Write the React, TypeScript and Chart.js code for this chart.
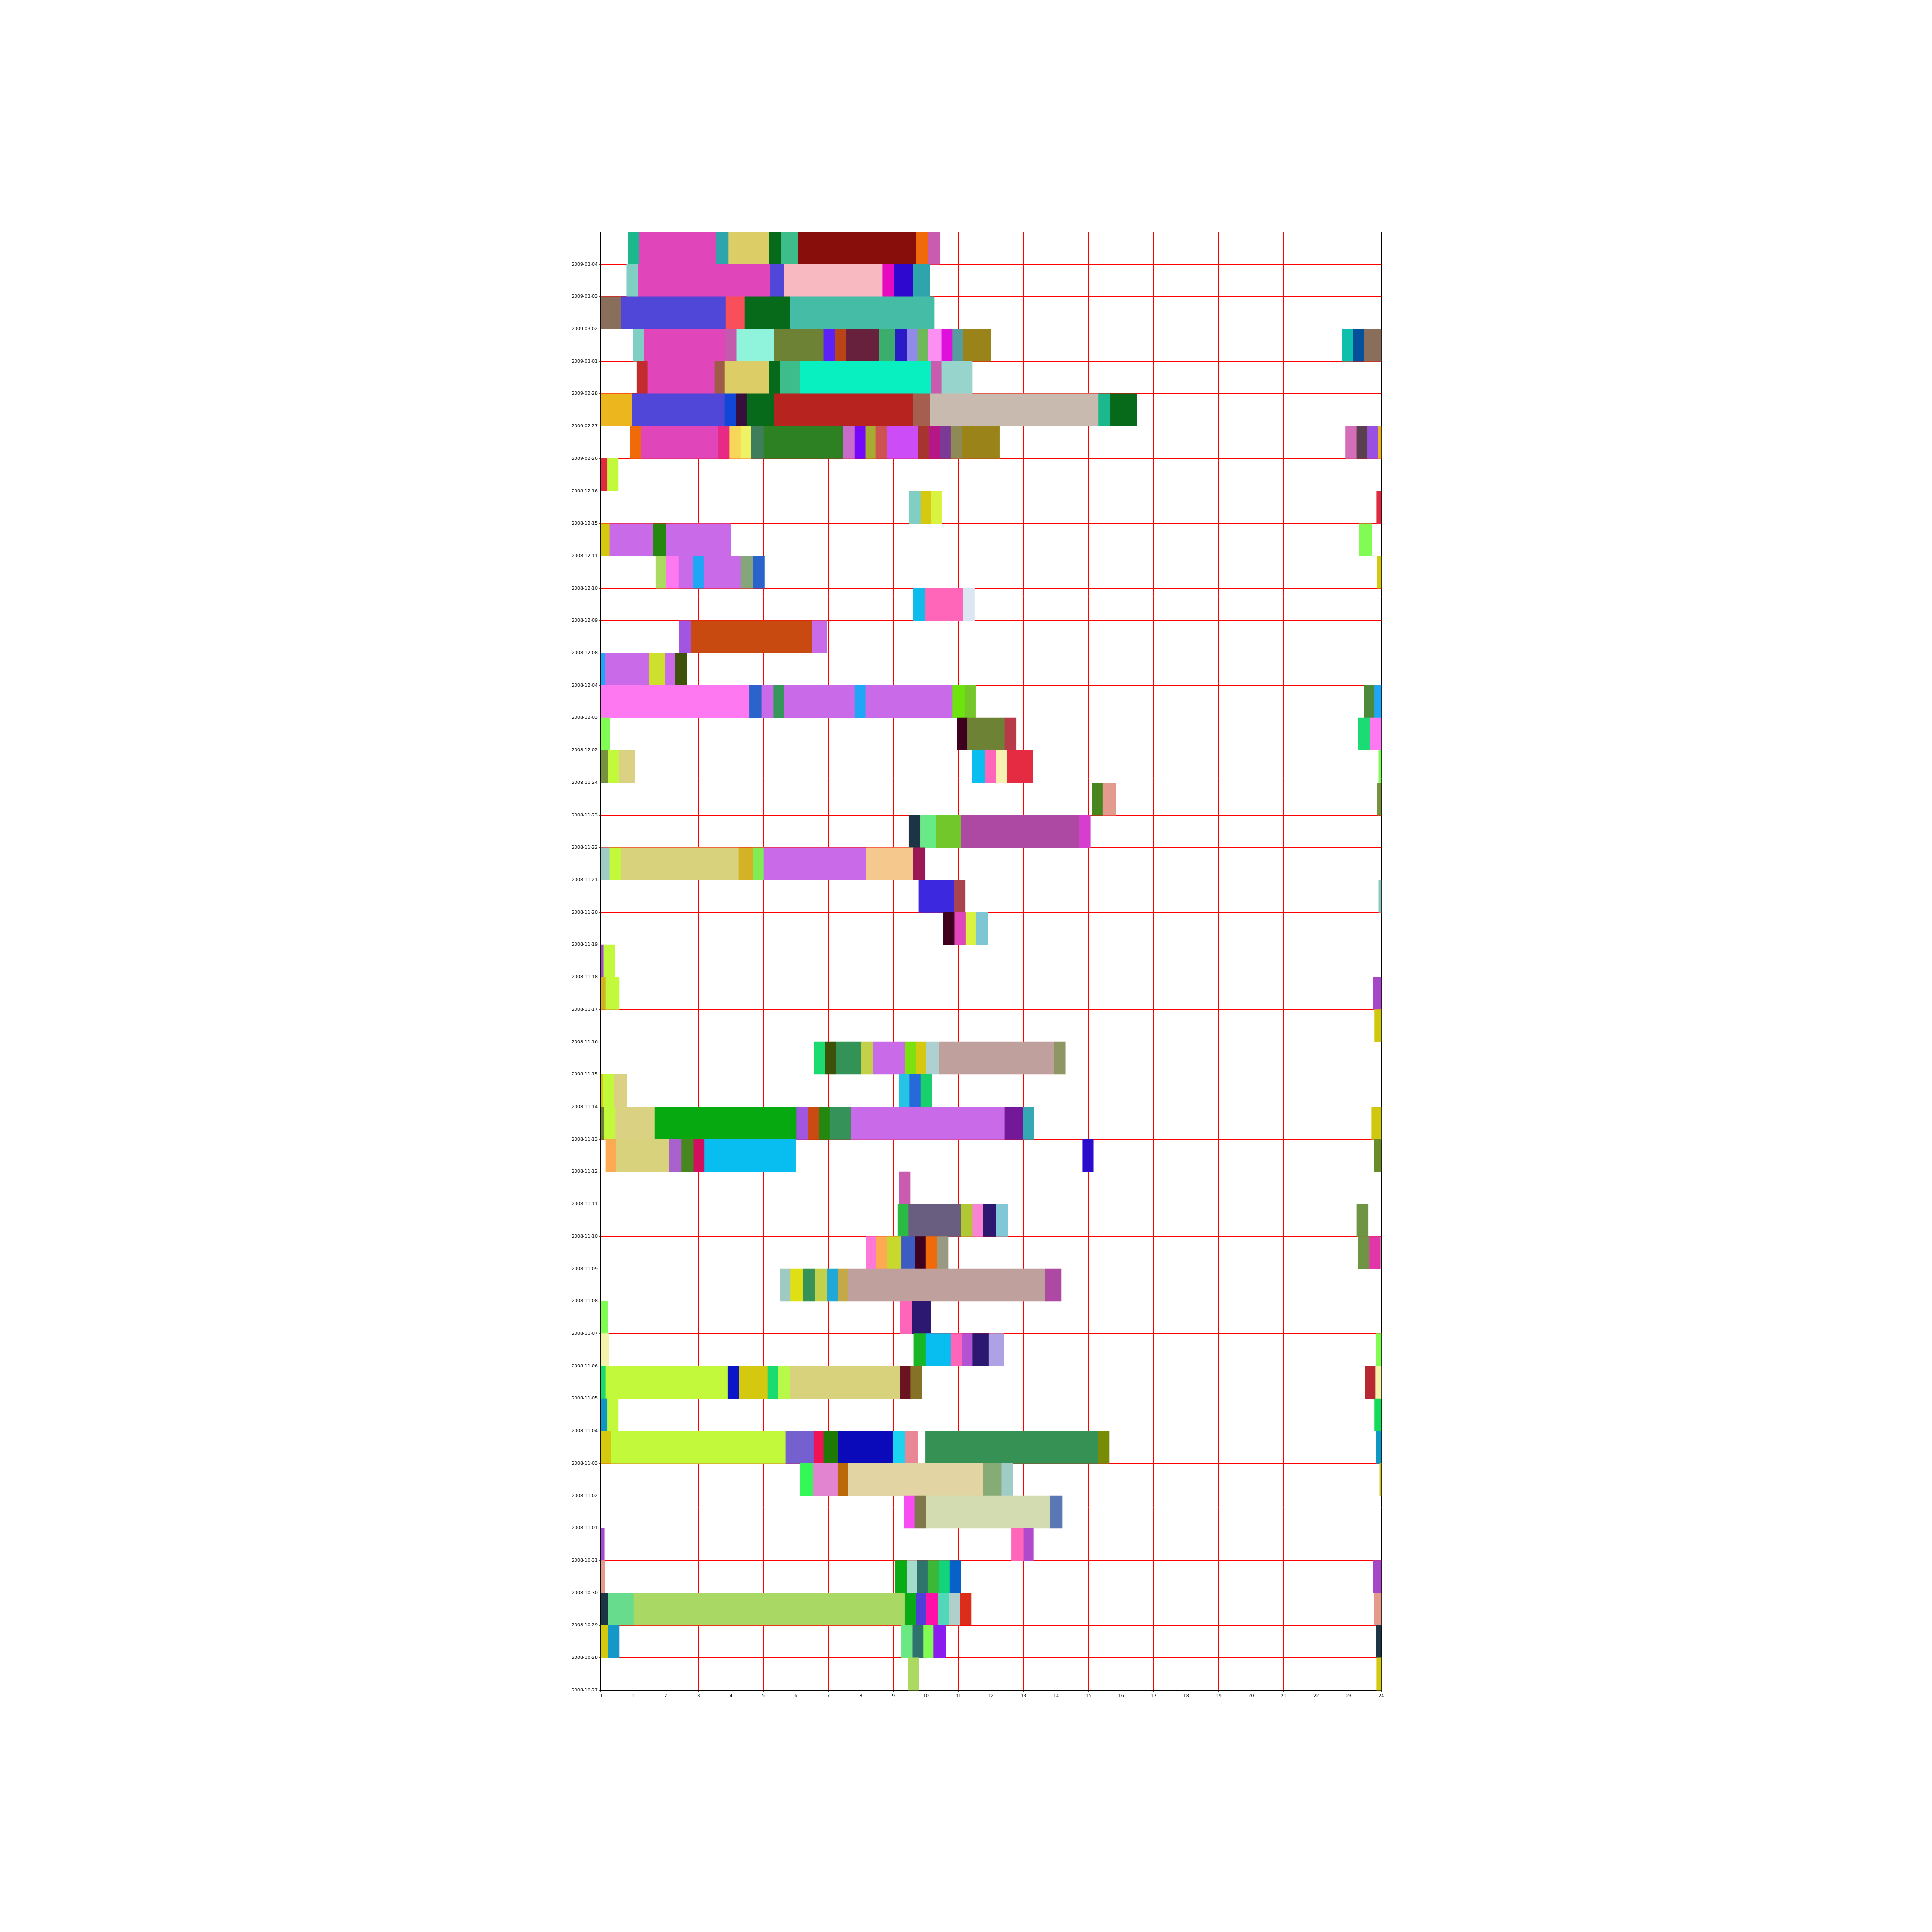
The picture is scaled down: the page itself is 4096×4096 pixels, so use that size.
import React, { useEffect, useRef } from 'react';
import { Chart, registerables } from 'chart.js';

Chart.register(...registerables);

// Day labels, top row first (each row's label sits at its bottom edge)
const dates: string[] = [
  '2009-03-04', '2009-03-03', '2009-03-02', '2009-03-01', '2009-02-28', '2009-02-27', '2009-02-26',
  '2008-12-16', '2008-12-15', '2008-12-11', '2008-12-10', '2008-12-09', '2008-12-08', '2008-12-04',
  '2008-12-03', '2008-12-02', '2008-11-24', '2008-11-23', '2008-11-22', '2008-11-21', '2008-11-20',
  '2008-11-19', '2008-11-18', '2008-11-17', '2008-11-16', '2008-11-15', '2008-11-14', '2008-11-13',
  '2008-11-12', '2008-11-11', '2008-11-10', '2008-11-09', '2008-11-08', '2008-11-07', '2008-11-06',
  '2008-11-05', '2008-11-04', '2008-11-03', '2008-11-02', '2008-11-01', '2008-10-31', '2008-10-30',
  '2008-10-29', '2008-10-28', '2008-10-27',
];

const hourTicks: number[] = [0, 1, 2, 3, 4, 5, 6, 7, 8, 9, 10, 11, 12, 13, 14, 15, 16, 17, 18, 19, 20, 21, 22, 23, 24];

// Activity segments per day: [start hour, end hour, colour]; same order as dates
const segments: [number, number, string][][] = [
  [[0.85, 1.18, '#1BB78D'], [1.18, 3.54, '#E045BA'], [3.54, 3.93, '#2EA4AD'], [3.93, 5.18, '#DCCD67'], [5.18, 5.54, '#066A1A'], [5.54, 6.07, '#3DBD8A'], [6.07, 9.70, '#880E0B'], [9.70, 10.07, '#F06A0A'], [10.07, 10.43, '#C95CAE']],
  [[0.80, 1.15, '#80CEC4'], [1.15, 5.21, '#E045BA'], [5.21, 5.65, '#5046D8'], [5.65, 8.66, '#F8B9C1'], [8.66, 9.02, '#E60AC0'], [9.02, 9.61, '#2E08CF'], [9.61, 10.12, '#2EA4AD']],
  [[0, 0.63, '#8A6E5C'], [0.63, 3.85, '#5046D8'], [3.85, 4.43, '#F94F5A'], [4.43, 5.82, '#066A1A'], [5.82, 10.26, '#45BCA6']],
  [[1.0, 1.33, '#80CEC4'], [1.33, 3.84, '#E045BA'], [3.84, 4.18, '#C459AE'], [4.18, 5.32, '#90F4DC'], [5.32, 6.85, '#6E8235'], [6.85, 7.21, '#5B22F8'], [7.21, 7.54, '#B94418'], [7.54, 8.56, '#68213C'], [8.56, 9.05, '#3BAE6D'], [9.05, 9.41, '#2A1BC8'], [9.41, 9.75, '#918AE8'], [9.75, 10.07, '#6EB95A'], [10.07, 10.49, '#FB90F2'], [10.49, 10.82, '#DF10DC'], [10.82, 11.14, '#569C9E'], [11.14, 11.99, '#9A841A'], [22.81, 23.13, '#0EBFAE'], [23.13, 23.47, '#05509A'], [23.47, 24, '#8A6E5C']],
  [[1.11, 1.44, '#C22C2F'], [1.44, 3.50, '#E045BA'], [3.50, 3.82, '#9F5A48'], [3.82, 5.18, '#DCCD67'], [5.18, 5.52, '#066A1A'], [5.52, 6.13, '#3DBD8A'], [6.13, 10.15, '#08EFC0'], [10.15, 10.49, '#C95CAE'], [10.49, 11.42, '#96D4CC']],
  [[0, 0.96, '#ECB61F'], [0.96, 3.82, '#5046D8'], [3.82, 4.16, '#1147D6'], [4.16, 4.49, '#380F3C'], [4.49, 5.34, '#066A1A'], [5.34, 9.61, '#B72420'], [9.61, 10.13, '#A55F4E'], [10.13, 15.30, '#C8BAAE'], [15.30, 15.66, '#1BB78D'], [15.66, 16.48, '#066A1A']],
  [[0.90, 1.25, '#F06A0A'], [1.25, 3.62, '#E045BA'], [3.62, 3.96, '#E82A84'], [3.96, 4.30, '#F8D65A'], [4.30, 4.63, '#EEF264'], [4.63, 5.01, '#3E7E5A'], [5.01, 7.46, '#2D8123'], [7.46, 7.81, '#C96BC8'], [7.81, 8.14, '#7508FB'], [8.14, 8.46, '#A7AB2F'], [8.46, 8.80, '#CE5350'], [8.80, 9.76, '#CC4DF8'], [9.76, 10.10, '#A83431'], [10.10, 10.43, '#B61686'], [10.43, 10.77, '#7C3996'], [10.77, 11.11, '#8F8A55'], [11.11, 12.27, '#9A841A'], [22.90, 23.24, '#D46EB8'], [23.24, 23.58, '#5A3F4E'], [23.58, 23.91, '#9A4FE3'], [23.91, 24, '#ECB61F']],
  [[0, 0.20, '#E02A40'], [0.20, 0.54, '#C2F93B']],
  [[9.48, 9.84, '#80CEC4'], [9.84, 10.15, '#D4C90F'], [10.15, 10.49, '#DAF240'], [23.86, 24, '#E02A40']],
  [[0, 0.28, '#D4C90F'], [0.28, 1.62, '#C96BE8'], [1.62, 2.01, '#24870F'], [2.01, 3.99, '#C96BE8'], [23.32, 23.70, '#80FC55']],
  [[1.69, 2.01, '#ACDA60'], [2.01, 2.40, '#FD78F1'], [2.40, 2.85, '#C96BE8'], [2.85, 3.17, '#1EA7F6'], [3.17, 4.30, '#C96BE8'], [4.30, 4.69, '#84A67A'], [4.69, 5.03, '#2963CB'], [23.87, 24, '#D4C90F']],
  [[9.61, 9.98, '#0DBCEB'], [9.98, 11.14, '#FF65B8'], [11.14, 11.50, '#DCE6F2']],
  [[2.41, 2.77, '#A255E0'], [2.77, 6.50, '#C94A10'], [6.50, 6.96, '#C96BE8']],
  [[0, 0.14, '#1EA7F6'], [0.14, 1.49, '#C96BE8'], [1.49, 1.98, '#CEE02C'], [1.98, 2.29, '#C96BE8'], [2.29, 2.65, '#3E520A']],
  [[0, 4.58, '#FD78F1'], [4.58, 4.95, '#2963CB'], [4.95, 5.31, '#C96BE8'], [5.31, 5.65, '#35985A'], [5.65, 7.81, '#C96BE8'], [7.81, 8.14, '#1EA7F6'], [8.14, 10.82, '#C96BE8'], [10.82, 11.19, '#6DE40E'], [11.19, 11.53, '#74C62A'], [23.47, 23.80, '#4A8A3A'], [23.80, 24, '#1EA7F6']],
  [[0, 0.29, '#80FC55'], [10.95, 11.28, '#3F0020'], [11.28, 12.42, '#6E8235'], [12.42, 12.78, '#B83A48'], [23.29, 23.66, '#1ADC72'], [23.66, 24, '#FD78F1']],
  [[0, 0.23, '#77923F'], [0.23, 0.57, '#C2F93B'], [0.57, 1.05, '#DAD282'], [11.42, 11.82, '#08BEF0'], [11.82, 12.15, '#FF65B8'], [12.15, 12.49, '#F7F1B2'], [12.49, 13.29, '#E42B42'], [23.92, 24, '#80FC55']],
  [[15.12, 15.44, '#47861E'], [15.44, 15.83, '#E29B8C'], [23.87, 24, '#77923F']],
  [[9.48, 9.83, '#1C3444'], [9.83, 10.01, '#6CE88A'], [10.01, 10.32, '#67EB86'], [10.32, 11.09, '#72C72A'], [11.09, 14.71, '#AD49A3'], [14.71, 15.05, '#D63FCD']],
  [[0, 0.28, '#A0CBC4'], [0.28, 0.62, '#C2F93B'], [0.62, 4.24, '#D8D27C'], [4.24, 4.69, '#D4B226'], [4.69, 5.01, '#82EC55'], [5.01, 8.15, '#C96BE8'], [8.15, 9.61, '#F5C98E'], [9.61, 9.98, '#9A1854']],
  [[9.78, 10.86, '#3C28DE'], [10.86, 11.20, '#A8434F'], [23.92, 24, '#8CC6BE']],
  [[10.54, 10.88, '#3F0020'], [10.88, 11.22, '#E045BA'], [11.22, 11.54, '#DAF240'], [11.54, 11.90, '#7EC6D4']],
  [[0, 0.09, '#A24AD0'], [0.09, 0.43, '#C2F93B']],
  [[0, 0.15, '#D4B226'], [0.15, 0.57, '#C2F93B'], [23.75, 24, '#A547C6']],
  [[23.80, 24, '#D0C80F']],
  [[6.56, 6.90, '#19DB70'], [6.90, 7.24, '#3C5209'], [7.24, 8.01, '#339357'], [8.01, 8.37, '#C2D04A'], [8.37, 9.36, '#C96BE8'], [9.36, 9.70, '#7DE00F'], [9.70, 10.01, '#D4C90F'], [10.01, 10.40, '#AFD0D0'], [10.40, 13.94, '#BFA09C'], [13.94, 14.28, '#8E9664']],
  [[0, 0.07, '#D4C90F'], [0.07, 0.40, '#C2F93B'], [0.40, 0.80, '#DAD282'], [9.17, 9.50, '#25C4E4'], [9.50, 9.84, '#2569DA'], [9.84, 10.18, '#19CF6E']],
  [[0, 0.11, '#6E8235'], [0.11, 0.45, '#C2F93B'], [0.45, 1.66, '#DAD282'], [1.66, 6.02, '#06AA10'], [6.02, 6.39, '#A255E0'], [6.39, 6.72, '#CB4A12'], [6.72, 7.04, '#24870F'], [7.04, 7.71, '#35935A'], [7.71, 12.42, '#C96BE8'], [12.42, 12.98, '#74189A'], [12.98, 13.32, '#35A9B3'], [23.70, 24, '#D0C80F']],
  [[0.15, 0.48, '#FDAA52'], [0.48, 2.10, '#D8D27C'], [2.10, 2.48, '#A962CD'], [2.48, 2.86, '#47861E'], [2.86, 3.19, '#D20F5E'], [3.19, 5.99, '#08BEF0'], [14.81, 15.15, '#2C0CCC'], [23.77, 24, '#6A8C28']],
  [[9.17, 9.52, '#C95CAE']],
  [[9.13, 9.47, '#2BBB45'], [9.47, 11.09, '#695E80'], [11.09, 11.43, '#B0C834'], [11.43, 11.77, '#F984D4'], [11.77, 12.15, '#2C1870'], [12.15, 12.52, '#80C8D8'], [23.24, 23.60, '#6E9444']],
  [[8.15, 8.48, '#FF78D8'], [8.48, 8.80, '#FDAA52'], [8.80, 9.25, '#C8D82C'], [9.25, 9.67, '#3C5CC2'], [9.67, 10.00, '#3F0020'], [10.00, 10.34, '#F06A0A'], [10.34, 10.68, '#9A9A82'], [23.29, 23.64, '#6E9444'], [23.64, 23.97, '#E036A8']],
  [[5.51, 5.83, '#9FCAC2'], [5.83, 6.22, '#DFE014'], [6.22, 6.58, '#35935A'], [6.58, 6.96, '#C2D04A'], [6.96, 7.29, '#20A8D8'], [7.29, 7.60, '#C4A948'], [7.60, 13.66, '#BFA09C'], [13.66, 14.16, '#AD49A3']],
  [[0, 0.22, '#80FC55'], [9.22, 9.58, '#FF65B8'], [9.58, 10.15, '#2C1870']],
  [[0, 0.26, '#F5F2AA'], [9.62, 10.00, '#18B524'], [10.00, 10.77, '#08BEF0'], [10.77, 11.11, '#FF65B8'], [11.11, 11.43, '#B452D4'], [11.43, 11.93, '#2C1870'], [11.93, 12.39, '#AEA2E4'], [23.84, 24, '#80FC55']],
  [[0, 0.15, '#19DB70'], [0.15, 3.91, '#C2F93B'], [3.91, 4.25, '#0A14C8'], [4.25, 5.14, '#D4C90F'], [5.14, 5.46, '#19DB70'], [5.46, 5.82, '#B8F848'], [5.82, 9.21, '#D8D27C'], [9.21, 9.53, '#6A1422'], [9.53, 9.87, '#857226'], [23.50, 23.83, '#B82832'], [23.83, 24, '#F5F2AA']],
  [[0, 0.20, '#0E96C4'], [0.20, 0.54, '#C2F93B'], [23.80, 24, '#12DC5A']],
  [[0, 0.32, '#D4C90F'], [0.32, 5.69, '#C2F93B'], [5.69, 6.55, '#7560D0'], [6.55, 6.85, '#F01456'], [6.85, 7.30, '#1F7A05'], [7.30, 8.99, '#0A0ABB'], [8.99, 9.35, '#1AD4F0'], [9.35, 9.75, '#E78894'], [9.99, 15.29, '#359254'], [15.29, 15.64, '#788C08'], [23.84, 24, '#0E96C4']],
  [[6.13, 6.53, '#33F857'], [6.53, 7.29, '#E284D0'], [7.29, 7.61, '#BB6908'], [7.61, 11.76, '#E3D5A3'], [11.76, 12.33, '#86AB74'], [12.33, 12.67, '#A0CCC8'], [23.95, 24, '#D4C10F']],
  [[9.33, 9.65, '#F84BF4'], [9.65, 10.01, '#80784A'], [10.01, 13.83, '#D3DCB0'], [13.83, 14.19, '#5B78B6']],
  [[0, 0.11, '#A24AD0'], [12.63, 13.00, '#FF65B8'], [13.00, 13.31, '#B04ACC']],
  [[0, 0.12, '#E59B8C'], [9.05, 9.41, '#0AAC15'], [9.41, 9.73, '#A6DCCB'], [9.73, 10.06, '#2E736C'], [10.06, 10.40, '#3CB838'], [10.40, 10.74, '#12D47A'], [10.74, 11.08, '#0662C8'], [23.75, 24, '#A547C6']],
  [[0, 0.22, '#1C3444'], [0.22, 1.02, '#66DC8C'], [1.02, 9.35, '#AAD864'], [9.35, 9.70, '#08AC14'], [9.70, 10.01, '#5040D8'], [10.01, 10.37, '#FF10A8'], [10.37, 10.72, '#50D8B8'], [10.72, 11.05, '#B0D0CC'], [11.05, 11.39, '#DC2C1A'], [23.77, 24, '#E59B8C']],
  [[0, 0.23, '#D4C90F'], [0.23, 0.57, '#1498C8'], [9.25, 9.59, '#6AE882'], [9.59, 9.92, '#2E736C'], [9.92, 10.24, '#80FC55'], [10.24, 10.61, '#8A1CF0'], [23.84, 24, '#1C3444']],
  [[9.45, 9.79, '#ACDA60'], [23.86, 24, '#D4C90F']],
];

const W = 4096;
const K = 0.948;
const AREA_LEFT = 1343.5 * K;
const AREA_RIGHT = 3089 * K;
const AREA_TOP = 518.3 * K;
const AREA_BOTTOM = 3780 * K;
const FONT = { family: 'DejaVu Sans', size: 10 * K };
const TICK_LEN = 3.5 * K;

export default function App() {
  const ref = useRef<HTMLCanvasElement>(null);

  useEffect(() => {
    const n = dates.length;
    const points: { x: [number, number]; y: number }[] = [];
    const colors: string[] = [];
    segments.forEach((row, r) => {
      row.forEach(([s, e, c]) => {
        points.push({ x: [s, e], y: n - r - 0.5 });
        colors.push(c);
      });
    });

    const chart = new Chart(ref.current as HTMLCanvasElement, {
      type: 'bar',
      data: {
        datasets: [
          {
            data: points as any,
            backgroundColor: colors,
            borderWidth: 0,
            categoryPercentage: 1,
            barPercentage: 1,
          },
        ],
      },
      options: {
        indexAxis: 'y',
        responsive: false,
        maintainAspectRatio: false,
        animation: false,
        devicePixelRatio: 1,
        plugins: { legend: { display: false }, tooltip: { enabled: false } },
        layout: { padding: { left: 0, top: AREA_TOP, right: W - AREA_RIGHT, bottom: 0 } },
        scales: {
          x: {
            type: 'linear',
            position: 'bottom',
            min: 0,
            max: 24,
            offset: false,
            z: 1,
            afterBuildTicks: (scale: any) => {
              scale.ticks = hourTicks.map((v) => ({ value: v }));
            },
            ticks: {
              autoSkip: false,
              maxRotation: 0,
              font: FONT,
              color: '#000',
              padding: TICK_LEN,
              callback: (v: any) => String(v),
            },
            grid: {
              offset: false,
              color: (ctx: any) => (ctx.tick && ctx.tick.value === 24 ? '#000000' : '#FF0000'),
              lineWidth: 1,
              tickColor: '#000000',
              tickLength: TICK_LEN,
            },
            border: { color: '#000000', width: 1 },
            afterFit: (scale: any) => {
              scale.height = W - AREA_BOTTOM;
            },
          },
          y: {
            type: 'linear',
            min: 0,
            max: n,
            offset: false,
            z: 1,
            ticks: {
              stepSize: 1,
              autoSkip: false,
              font: FONT,
              color: '#000',
              padding: TICK_LEN,
              callback: (v: any) => {
                const i = n - 1 - Math.round(Number(v));
                return i >= 0 && i < n ? dates[i] : '';
              },
            },
            grid: {
              offset: false,
              color: (ctx: any) => (ctx.tick && ctx.tick.value === n ? '#000000' : '#FF0000'),
              lineWidth: 1,
              tickColor: '#000000',
              tickLength: TICK_LEN,
            },
            border: { color: '#000000', width: 1 },
            afterFit: (scale: any) => {
              scale.width = AREA_LEFT;
            },
          },
        },
      },
    });
    return () => chart.destroy();
  }, []);

  return (
    <div style={{ position: 'absolute', left: 0, top: 0, width: W, height: W, background: '#ffffff' }}>
      <canvas ref={ref} width={W} height={W} style={{ width: W, height: W, display: 'block' }} />
    </div>
  );
}
